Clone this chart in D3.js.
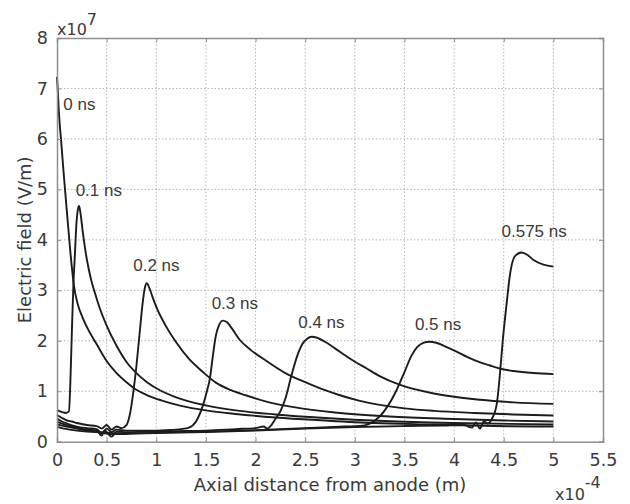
<!DOCTYPE html>
<html>
<head>
<meta charset="utf-8">
<script src="https://cdn.jsdelivr.net/npm/d3@7"></script>
<style>
  html, body { margin: 0; padding: 0; background: #ffffff; }
  svg { display: block; }
</style>
</head>
<body>
<svg id="chart" width="630" height="504"></svg>
<script>
// Axis ticks (x in units of 1e-4 m, y in units of 1e7 V/m)
const xTicks = [0, 0.5, 1, 1.5, 2, 2.5, 3, 3.5, 4, 4.5, 5, 5.5];
const yTicks = [0, 1, 2, 3, 4, 5, 6, 7, 8];

// Electric field profiles along the axis at successive times
const field0ns = [[0,7.23],[0.008,6.95],[0.02,6.5],[0.04,6.0],[0.07,5.25],[0.1,4.55],[0.135,3.75],[0.17,3.1],[0.21,2.72],[0.26,2.45],[0.32,2.2],[0.4,1.93],[0.5,1.6],[0.6,1.36],[0.7,1.18],[0.8,1.03],[0.9,0.93],[1.05,0.82],[1.25,0.71],[1.5,0.62],[1.8,0.55],[2.2,0.48],[2.7,0.42],[3.2,0.37],[3.8,0.34],[4.4,0.31],[5,0.3]];

const field01ns = [[0,0.63],[0.03,0.6],[0.06,0.58],[0.09,0.57],[0.12,0.6],[0.135,1.2],[0.15,2.2],[0.165,3.1],[0.18,3.7],[0.195,4.3],[0.21,4.6],[0.222,4.67],[0.235,4.55],[0.26,4.15],[0.3,3.62],[0.34,3.24],[0.38,2.96],[0.43,2.65],[0.5,2.3],[0.6,1.9],[0.7,1.58],[0.8,1.36],[0.9,1.19],[1.0,1.06],[1.2,0.88],[1.5,0.72],[1.8,0.62],[2.2,0.54],[2.7,0.47],[3.3,0.41],[4,0.37],[5,0.34]];

const field02ns = [[0,0.53],[0.05,0.47],[0.1,0.42],[0.15,0.4],[0.2,0.37],[0.3,0.33],[0.4,0.31],[0.45,0.26],[0.5,0.33],[0.55,0.24],[0.6,0.3],[0.65,0.27],[0.7,0.33],[0.74,0.6],[0.77,1.0],[0.8,1.5],[0.83,2.1],[0.86,2.7],[0.885,3.05],[0.905,3.14],[0.93,3.05],[0.96,2.88],[1.0,2.67],[1.1,2.28],[1.2,1.97],[1.33,1.64],[1.47,1.38],[1.6,1.17],[1.74,1.03],[1.9,0.92],[2.1,0.8],[2.4,0.68],[2.8,0.58],[3.35,0.5],[4,0.45],[4.5,0.42],[5,0.4]];

const field03ns = [[0,0.46],[0.05,0.4],[0.1,0.36],[0.2,0.3],[0.3,0.27],[0.4,0.25],[0.45,0.17],[0.5,0.26],[0.55,0.19],[0.6,0.24],[0.7,0.22],[0.9,0.22],[1.1,0.23],[1.25,0.25],[1.33,0.28],[1.4,0.4],[1.47,0.72],[1.51,1.0],[1.54,1.25],[1.57,1.7],[1.6,2.1],[1.63,2.3],[1.67,2.4],[1.71,2.37],[1.77,2.22],[1.84,2.02],[1.95,1.82],[2.11,1.6],[2.3,1.36],[2.5,1.18],[2.7,1.02],[2.85,0.92],[3.05,0.81],[3.25,0.73],[3.5,0.66],[3.8,0.61],[4.2,0.57],[4.6,0.54],[5,0.52]];

const field04ns = [[0,0.4],[0.05,0.36],[0.1,0.33],[0.2,0.28],[0.3,0.24],[0.4,0.22],[0.45,0.12],[0.48,0.22],[0.55,0.1],[0.6,0.2],[0.7,0.19],[0.9,0.2],[1.2,0.21],[1.5,0.22],[1.8,0.25],[2.0,0.27],[2.08,0.3],[2.12,0.26],[2.16,0.33],[2.2,0.45],[2.25,0.6],[2.3,0.85],[2.36,1.3],[2.42,1.7],[2.47,1.93],[2.52,2.04],[2.565,2.08],[2.62,2.06],[2.7,1.98],[2.8,1.85],[2.95,1.65],[3.12,1.45],[3.25,1.3],[3.45,1.13],[3.76,0.97],[4.0,0.89],[4.26,0.83],[4.6,0.78],[5,0.75]];

const field05ns = [[0,0.35],[0.05,0.32],[0.1,0.3],[0.2,0.26],[0.3,0.22],[0.4,0.2],[0.5,0.18],[0.6,0.17],[0.8,0.17],[1.0,0.18],[1.5,0.2],[2.0,0.23],[2.5,0.27],[2.9,0.3],[3.05,0.31],[3.15,0.36],[3.25,0.5],[3.33,0.7],[3.42,1.02],[3.5,1.38],[3.57,1.7],[3.63,1.88],[3.69,1.96],[3.75,1.98],[3.82,1.96],[3.92,1.88],[4.03,1.78],[4.13,1.68],[4.25,1.58],[4.36,1.51],[4.46,1.45],[4.6,1.4],[4.8,1.36],[5,1.34]];

const field0575ns = [[0,0.3],[0.05,0.27],[0.1,0.25],[0.2,0.22],[0.3,0.2],[0.4,0.19],[0.5,0.16],[0.6,0.15],[0.8,0.16],[1.0,0.17],[1.5,0.19],[2.0,0.22],[2.5,0.26],[3.0,0.29],[3.5,0.31],[3.9,0.32],[4.1,0.33],[4.18,0.28],[4.22,0.38],[4.26,0.26],[4.3,0.4],[4.34,0.36],[4.38,0.45],[4.43,0.75],[4.46,1.3],[4.49,2.0],[4.53,2.75],[4.56,3.27],[4.61,3.67],[4.68,3.75],[4.74,3.7],[4.8,3.6],[4.9,3.51],[5,3.47]];

const profiles = [field0ns, field01ns, field02ns, field03ns, field04ns, field05ns, field0575ns];

// Time labels and the data-space point where each label starts (left, baseline)
const timeLabels = ["0 ns", "0.1 ns", "0.2 ns", "0.3 ns", "0.4 ns", "0.5 ns", "0.575 ns"];
const labelAnchorX = [0.064, 0.188, 0.768, 1.558, 2.43, 3.605, 4.478];
const labelAnchorY = [6.57, 4.86, 3.39, 2.62, 2.25, 2.21, 4.05];

const W = 630, H = 504;
const margin = { left: 57, top: 38, right: 27, bottom: 62.3 };
const plotW = W - margin.left - margin.right;
const plotH = H - margin.top - margin.bottom;

const svg = d3.select("#chart");
svg.append("rect").attr("width", W).attr("height", H).attr("fill", "#ffffff");

const x = d3.scaleLinear().domain([0, 5.5]).range([margin.left, margin.left + plotW]);
const y = d3.scaleLinear().domain([0, 8]).range([margin.top + plotH, margin.top]);

const axisColor = "#8e8e8e";
const textColor = "#3a3a3a";
const tickFont = "DejaVu Sans, Verdana, sans-serif";

// Dotted grid
const grid = svg.append("g");
grid.selectAll("line.gx").data(xTicks.filter(d => d > 0 && d < 5.5)).join("line")
  .attr("x1", d => x(d)).attr("x2", d => x(d))
  .attr("y1", y(0)).attr("y2", y(8))
  .attr("stroke", "#b4b4b4").attr("stroke-width", 1).attr("stroke-dasharray", "1.5,2");
grid.selectAll("line.gy").data(yTicks.filter(d => d > 0 && d < 8)).join("line")
  .attr("x1", x(0)).attr("x2", x(5.5))
  .attr("y1", d => y(d)).attr("y2", d => y(d))
  .attr("stroke", "#b4b4b4").attr("stroke-width", 1).attr("stroke-dasharray", "1.5,2");

// Curves
const line = d3.line()
  .x(d => x(d[0]))
  .y(d => y(d[1]))
  .curve(d3.curveMonotoneX);

svg.append("g").selectAll("path").data(profiles).join("path")
  .attr("d", line)
  .attr("fill", "none")
  .attr("stroke", "#1c1c1c")
  .attr("stroke-width", 1.9)
  .attr("stroke-linejoin", "round");

// Axes with inward ticks
const xAxis = d3.axisBottom(x).tickValues(xTicks).tickSize(-4).tickPadding(12).tickFormat(d => String(d));
const yAxis = d3.axisLeft(y).tickValues(yTicks).tickSize(-4).tickPadding(9).tickFormat(d => String(d));

svg.append("g").attr("transform", `translate(0,${y(0)})`).call(xAxis);
svg.append("g").attr("transform", `translate(${x(0)},0)`).call(yAxis);
svg.append("g").attr("transform", `translate(0,${y(8)})`)
  .call(d3.axisTop(x).tickValues(xTicks).tickSize(-4).tickFormat(""));
svg.append("g").attr("transform", `translate(${x(5.5)},0)`)
  .call(d3.axisRight(y).tickValues(yTicks).tickSize(-4).tickFormat(""));

svg.selectAll(".domain").attr("stroke", axisColor).attr("stroke-width", 1.5);
svg.selectAll(".tick line").attr("stroke", axisColor);
svg.selectAll(".tick text")
  .attr("fill", textColor)
  .style("font-family", tickFont)
  .style("font-size", "17.5px");

// Axis titles
svg.append("text")
  .attr("x", (x(0) + x(5.5)) / 2).attr("y", 491)
  .attr("text-anchor", "middle")
  .attr("fill", textColor)
  .style("font-family", tickFont).style("font-size", "18px")
  .text("Axial distance from anode (m)");

svg.append("text")
  .attr("transform", `translate(31,${(y(0) + y(8)) / 2}) rotate(-90)`)
  .attr("text-anchor", "middle")
  .attr("fill", textColor)
  .style("font-family", tickFont).style("font-size", "18px")
  .text("Electric field (V/m)");

// Scale multipliers
const mulY = svg.append("text").attr("x", x(0)).attr("y", 35)
  .attr("fill", textColor).style("font-family", tickFont).style("font-size", "16px");
mulY.append("tspan").text("x10");
mulY.append("tspan").attr("dy", -10).text("7");

const mulX = svg.append("text").attr("x", 555).attr("y", 500)
  .attr("fill", textColor).style("font-family", tickFont).style("font-size", "16px");
mulX.append("tspan").text("x10");
mulX.append("tspan").attr("dy", -12).text("-4");

// Time annotations
svg.append("g").selectAll("text").data(timeLabels).join("text")
  .attr("x", (d, i) => x(labelAnchorX[i]))
  .attr("y", (d, i) => y(labelAnchorY[i]))
  .attr("fill", textColor)
  .style("font-family", "Liberation Sans, Arial, sans-serif")
  .style("font-size", "17px")
  .text(d => d);
</script>
</body>
</html>
